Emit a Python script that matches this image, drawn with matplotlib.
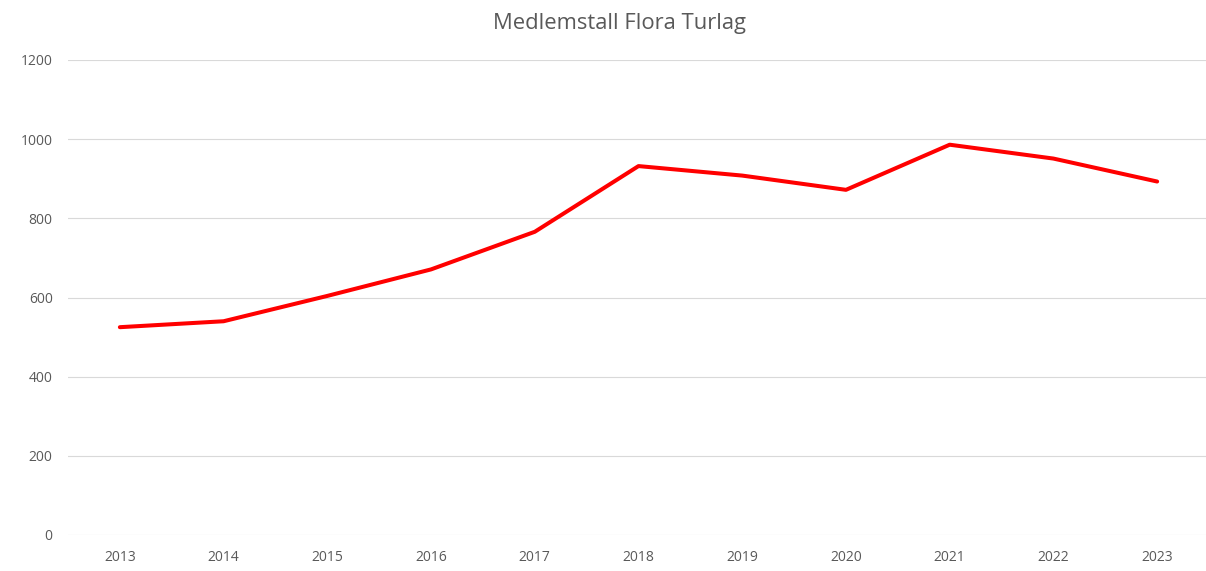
import numpy as np
import matplotlib.pyplot as plt

plt.rcParams['font.family'] = ['Open Sans', 'DejaVu Sans']

# Members per year
years = ["2013", "2014", "2015", "2016", "2017", "2018", "2019", "2020", "2021", "2022", "2023"]
members = [525, 540, 604, 671, 766, 932, 908, 872, 986, 951, 893]
yticks = [0, 200, 400, 600, 800, 1000, 1200]

W, H = 1206, 571
fig = plt.figure(figsize=(W / 100, H / 100), dpi=100)
# plot area in pixels: left 68, right 1209, top 60, bottom 535
ax = fig.add_axes([68 / W, (H - 535) / H, (1209 - 68) / W, 475 / H])

x = np.arange(len(years))
ax.plot(x, members, color="#ff0000", linewidth=2.9, solid_capstyle="round",
        solid_joinstyle="round", zorder=3)

ax.set_xlim(-0.5, len(years) - 0.5)
ax.set_ylim(0, 1200)
ax.set_xticks(x)
ax.set_xticklabels(years)
ax.set_yticks(yticks)
ax.set_yticklabels([str(v) for v in yticks])

ax.grid(axis="y", color="#d9d9d9", linewidth=0.8)
ax.set_axisbelow(True)
for s in ax.spines.values():
    s.set_visible(False)
ax.tick_params(length=0, labelsize=10, labelcolor="#595959")
ax.tick_params(axis="x", pad=11)
ax.tick_params(axis="y", pad=11)

fig.text(619 / W, 1 - 23 / H, "Medlemstall Flora Turlag", ha="center", va="center",
         fontsize=15.8, color="#595959")

fig.savefig("out.png", dpi=100, facecolor="white")
